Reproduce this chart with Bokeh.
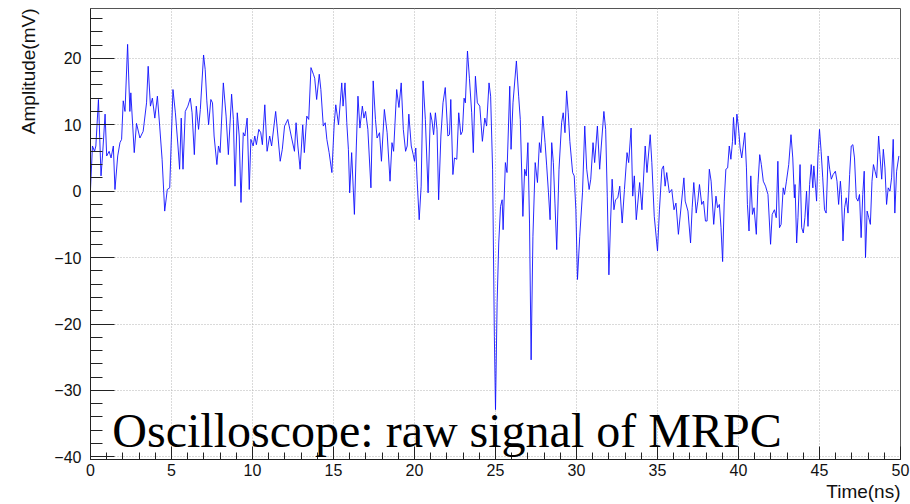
from bokeh.plotting import figure
from bokeh.models import Range1d, SingleIntervalTicker, Label, Title, CustomJSTickFormatter
from bokeh.embed import file_html
from bokeh.resources import INLINE

# ---- data (turning points of the trace) ----
time_ns = [
    0.0, 0.12, 0.25, 0.33, 0.49, 0.65, 0.74, 0.9, 1.0, 1.15, 1.27, 1.41, 1.51, 1.68, 1.82, 1.92,
    2.02, 2.13, 2.29, 2.43, 2.49, 2.7, 2.84, 3.05, 3.25, 3.46, 3.56, 3.7, 3.82, 3.97, 4.13, 4.27,
    4.42, 4.58, 4.74, 4.89, 5.09, 5.24, 5.4, 5.5, 5.6, 5.71, 5.85, 6.01,
    6.16, 6.27, 6.41, 6.53, 6.67, 6.78, 6.98, 7.08, 7.18, 7.29, 7.43, 7.53, 7.63, 7.8, 7.9, 8.0,
    8.2, 8.37, 8.51, 8.71, 8.82, 8.92, 9.06, 9.18, 9.29, 9.43, 9.53, 9.67, 9.8, 9.9, 10.04, 10.14,
    10.24, 10.39, 10.51, 10.61, 10.76, 10.9, 11.06, 11.18, 11.43, 11.57, 11.71, 11.84, 11.98,
    12.18, 12.29, 12.39,
    12.59, 12.69, 12.8, 12.94, 13.1, 13.2, 13.35, 13.47, 13.61, 13.76, 13.84, 13.96, 14.12, 14.22,
    14.37, 14.49, 14.59, 14.73, 14.9, 15.04, 15.14, 15.31, 15.51, 15.59, 15.71, 15.82, 15.92, 16.0,
    16.12, 16.29, 16.41, 16.51, 16.63, 16.78, 16.88, 16.98, 17.12, 17.31, 17.45, 17.59, 17.69,
    17.84, 17.96, 18.14, 18.31, 18.49, 18.61, 18.71,
    18.9, 19.04, 19.18, 19.31, 19.45, 19.55, 19.65, 19.8, 19.92, 20.0, 20.08, 20.16, 20.29, 20.41,
    20.53, 20.67, 20.84, 20.98, 21.08, 21.18, 21.29, 21.39, 21.49, 21.63, 21.76, 21.9, 22.06,
    22.16, 22.24, 22.37, 22.47, 22.61, 22.73, 22.86, 22.96, 23.06, 23.14, 23.27, 23.39, 23.53,
    23.63, 23.76, 23.88,
    24.03, 24.19, 24.34, 24.45, 24.6, 24.7, 24.82, 24.93, 25.0,
    25.1, 25.2, 25.31, 25.41, 25.47, 25.61, 25.71, 25.88, 25.96, 26.08, 26.29, 26.43, 26.53,
    26.69, 26.8, 26.9, 27.0, 27.1, 27.2, 27.31, 27.45, 27.59, 27.71, 27.8, 27.92, 28.06, 28.16,
    28.27, 28.37, 28.47, 28.57, 28.67, 28.78, 28.92, 29.08, 29.18, 29.29, 29.39, 29.49, 29.59,
    29.76, 29.86, 29.96, 30.06, 30.2,
    30.37, 30.51, 30.63, 30.78, 30.88, 31.02, 31.12, 31.29, 31.43, 31.53, 31.69, 31.8, 31.9, 32.0,
    32.1, 32.2, 32.31, 32.41, 32.55, 32.67, 32.82, 32.96, 33.12, 33.22, 33.37, 33.47, 33.57,
    33.69, 33.9, 34.04, 34.24, 34.35, 34.55, 34.65, 34.8, 35.0, 35.12, 35.27, 35.37, 35.47,
    35.57, 35.73, 35.88, 36.02, 36.14, 36.29,
    36.63, 36.71, 36.88, 37.04, 37.14, 37.24, 37.39, 37.49, 37.59, 37.73, 37.84, 37.96, 38.06,
    38.2, 38.31, 38.47, 38.61, 38.71, 38.82, 38.92, 39.02, 39.12, 39.22, 39.33, 39.43, 39.53,
    39.63, 39.69, 39.8, 39.9, 40.0, 40.1, 40.2, 40.39, 40.49, 40.55, 40.65, 40.76, 40.86, 40.96,
    41.1, 41.2, 41.31, 41.41, 41.53, 41.67, 41.82, 41.98, 42.08, 42.22, 42.33, 42.43, 42.53,
    42.63, 42.76, 42.84, 42.96, 43.1, 43.24, 43.35, 43.45,
    43.49, 43.59, 43.67, 43.8, 43.9, 44.0, 44.1, 44.2, 44.29, 44.39, 44.49, 44.59, 44.65, 44.76,
    44.82, 44.9, 45.0, 45.1, 45.2, 45.31, 45.41, 45.53, 45.63, 45.73, 45.84, 45.98, 46.08, 46.18,
    46.29, 46.35, 46.45, 46.55, 46.65, 46.76, 46.86, 46.96, 47.06, 47.16, 47.27, 47.37, 47.47,
    47.57, 47.67, 47.76, 47.84, 47.94, 48.04, 48.14, 48.24, 48.33, 48.43, 48.53, 48.65, 48.73,
    48.84, 48.94, 49.04, 49.14, 49.24, 49.35, 49.45, 49.55, 49.65, 49.76, 49.9,
]
amplitude_mv = [
    0.3, 6.8, 6.0, 6.8, 13.8, 2.3, 5.3, 11.6, 5.3, 6.0, 5.0, 6.8, 0.25, 5.3, 7.3, 7.8,
    13.6, 12.0, 22.1, 12.0, 14.8, 5.8, 10.2, 8.0, 9.0, 13.3, 18.8, 12.8, 14.0, 11.0, 14.3, 9.8,
    4.8, -3.0, 0.25, 0.5, 15.3, 11.8, 6.8, 3.3, 11.0, 3.3, 12.0, 12.8,
    14.0, 11.8, 5.5, 12.8, 9.3, 12.3, 20.5, 18.3, 13.6, 10.0, 13.8, 13.3, 8.3, 4.0, 6.8, 5.8,
    16.3, 11.3, 5.5, 14.6, 10.8, 0.75, 11.8, 8.3, -1.7, 8.8, 8.3, 11.0, 0.25, 7.8, 6.8, 8.3,
    7.0, 9.3, 8.8, 7.0, 13.0, 6.0, 8.3, 6.8, 12.0, 8.3, 4.5, 6.3, 9.8,
    10.8, 9.5, 8.3,
    6.0, 10.3, 6.8, 3.3, 10.0, 5.8, 11.3, 10.8, 18.6, 17.6, 17.0, 13.8, 17.6, 15.3,
    9.8, 10.3, 7.8, 5.8, 2.8, 10.0, 13.0, 10.0, 16.3, 12.8, 16.3, 10.3, 6.3, -0.25,
    5.8, -3.5, 6.8, 14.3, 9.5, 12.8, 11.0, 12.0, 9.3, 0.5, 16.6, 10.8, 8.0,
    8.8, 4.5, 12.3, 8.8, 1.5, 7.3, 6.0,
    15.3, 12.6, 16.3, 9.3, 6.0, 6.8, 11.6, 6.8, 5.5, 4.5, 6.5, 1.8, -4.3, 0.75,
    16.6, 10.8, -0.25, 11.8, 10.6, 8.5, 11.8, 9.3, -1.3, 8.3, 13.3, 15.6, 8.3,
    8.5, 13.8, 2.5, 5.0, 4.8, 11.8, 8.5, 9.0, 14.0, 13.3, 21.1, 17.0, 11.8,
    5.8, 17.3, 13.3,
    12.8, 7.5, 11.0, 9.8, 16.3, 14.3, 3.3, -21.9, -32.9,
    -16.8, -7.8, -2.3, -1.3, -5.8, 4.3, 2.8, 15.8, 6.3, 13.3, 19.6, 14.3, 10.8,
    -3.8, 3.3, 2.3, 7.3, -4.8, -25.4, -6.8, 4.3, 1.3, 7.3, 5.8, 11.3, 7.3, 3.8,
    -0.25, -4.3, 7.3, 4.3, -1.8, -8.8, 3.3, 10.3, 11.8, 8.8, 15.1, 11.8, 7.5,
    2.8, 2.3, -2.8, -13.3, -6.8,
    -0.25, 9.8, 3.3, 0.25, 1.8, 7.3, 4.3, 9.8, 3.3, 6.8, 12.0, 9.3, -0.75, -12.6,
    -4.8, 1.8, -2.8, -1.3, -1.0, 0.75, -4.8, 0.25, 5.8, 4.3, 9.5, -0.75, 2.3,
    -4.3, 1.3, -2.8, 6.8, 2.8, 8.5, 4.3, -3.8, -9.0, -2.8, 3.3, 3.8, 0.75,
    2.8, -0.25, 0.25, -2.8, -1.8, -6.5,
    2.0, -1.5, -3.0, -7.8, -2.5, 1.3, -3.3, -1.5, 1.0, -2.0, -1.5, -4.5, -4.5,
    3.3, 1.5, -5.0, -0.75, -2.5, -2.0, -5.5, -10.6, -1.5, 3.3, 3.5, 6.8, 4.8,
    7.5, 11.1, 7.0, 11.6, 9.5, 6.5, 5.0, 8.8, 3.5, -2.0, -6.0, 2.3, -3.5, -2.5,
    -6.5, 1.0, 5.5, 4.0, 1.5, 0.75, -0.5, -8.0, -3.5, -2.8, -4.0, 4.5, -5.5,
    -5.0, 0.5, -0.5, 1.5, 4.0, 8.5, 5.0, -1.0,
    1.0, -7.8, -4.0, 4.0, -5.5, -6.3, -4.0, 0.0, -5.3, 1.0, 4.0, 0.5, 3.8, 0.5,
    -1.5, 5.0, 9.3, 6.0, 2.0, -2.8, -3.3, 5.3, 3.3, 1.8, 2.5, 3.0, 1.5, -2.0,
    1.5, -0.5, -7.5, -2.5, -1.0, -3.3, 2.5, 6.8, 7.0, 5.0, -1.0, -1.5, -0.5,
    -7.0, -0.5, 3.0, -10.0, -3.0, -4.0, -5.0, 1.5, 4.0, 3.0, 2.0, 8.3, 5.5,
    1.8, 6.3, 3.5, -2.0, 0.5, 0.0, 2.0, 7.8, -3.3, 3.0, 5.3,
]

x_title = "Time(ns)"
y_title = "Amplitude(mV)"
overlay_text = "Oscilloscope: raw signal of MRPC"

X_MIN, X_MAX = 0, 50
Y_MIN, Y_MAX = -40.4, 27.5

p = figure(
    frame_width=810, frame_height=451,
    min_border_left=90, min_border_right=10, min_border_top=8, min_border_bottom=45,
    x_range=Range1d(X_MIN, X_MAX), y_range=Range1d(Y_MIN, Y_MAX),
    output_backend="svg", toolbar_location=None,
    background_fill_color="white", border_fill_color="white",
)

p.line(time_ns, amplitude_mv, line_color="#1010ff", line_width=0.9)

# axes (ROOT style: ticks drawn inside the frame)
xt = SingleIntervalTicker(interval=5, num_minor_ticks=5)
yt = SingleIntervalTicker(interval=10, num_minor_ticks=5)
p.xaxis.ticker = xt
p.yaxis.ticker = yt
p.xgrid.ticker = xt
p.ygrid.ticker = yt

for ax in (p.xaxis[0], p.yaxis[0]):
    ax.axis_line_color = "#222222"
    ax.major_tick_line_color = "#222222"
    ax.minor_tick_line_color = "#222222"
    ax.major_tick_out = 0
    ax.minor_tick_out = 0
    ax.major_label_text_font = "Liberation Sans"
    ax.major_label_text_font_size = "16px"
    ax.major_label_text_color = "#111111"
    ax.formatter = CustomJSTickFormatter(
        code="return tick < 0 ? '\\u2212' + Math.abs(tick) : String(tick);")

p.xaxis.major_tick_in = 13
p.xaxis.minor_tick_in = 7
p.xaxis.major_label_standoff = 4
p.yaxis.major_tick_in = 24
p.yaxis.minor_tick_in = 12
p.yaxis.major_label_standoff = 9

p.grid.grid_line_color = "#b4b4b4"
p.grid.grid_line_dash = "1 2"
p.grid.grid_line_width = 1

p.outline_line_color = "#555555"
p.outline_line_width = 1

# axis titles, placed at the far end of each axis (ROOT style)
def make_title(text, standoff):
    t = Title(text=text, align="right", text_font="Liberation Sans",
              text_font_size="19px", text_font_style="normal", text_color="#111111")
    if "standoff" in t.properties():
        t.standoff = standoff
    return t

p.add_layout(make_title(x_title, 0), "below")
p.add_layout(make_title(y_title, 26), "left")

# overlay annotation inside the frame, near its bottom-left corner
p.add_layout(Label(x=1.35, y=-36.1, text=overlay_text,
                   text_align="left", text_baseline="alphabetic",
                   text_font="Liberation Serif", text_font_size="48px", text_color="black"))

open("out.html", "w").write(file_html(p, INLINE))
